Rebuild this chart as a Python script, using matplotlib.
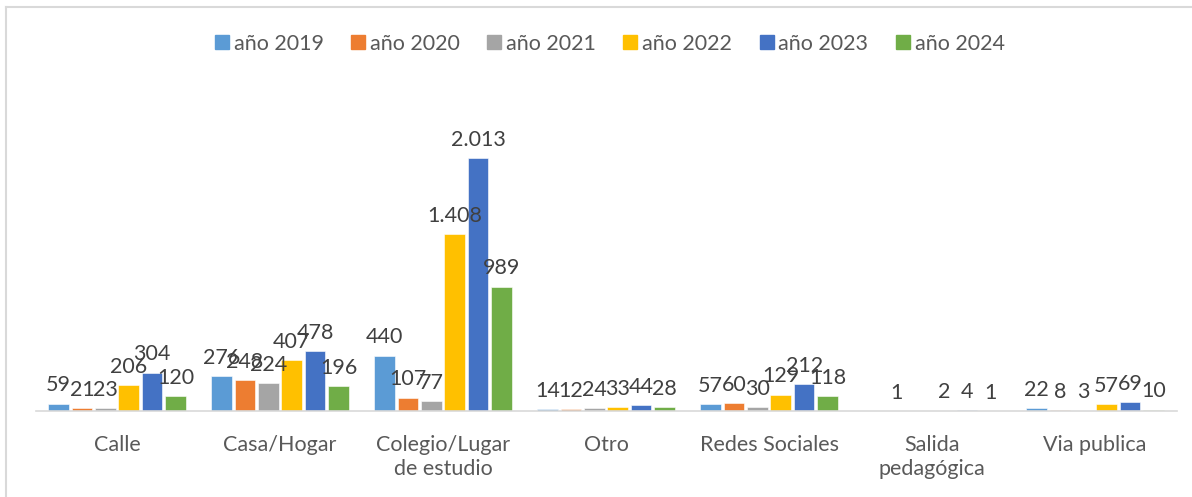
import matplotlib
matplotlib.use("Agg")
import matplotlib.pyplot as plt
from matplotlib.lines import Line2D
import numpy as np

categories = ["Calle", "Casa/Hogar", "Colegio/Lugar\nde estudio", "Otro",
              "Redes Sociales", "Salida\npedagógica", "Via publica"]
series_names = ["año 2019", "año 2020", "año 2021", "año 2022", "año 2023", "año 2024"]
v2019 = [59, 276, 440, 14, 57, None, 22]
v2020 = [21, 248, 107, 12, 60, 1, 8]
v2021 = [23, 224, 77, 24, 30, None, 3]
v2022 = [206, 407, 1408, 33, 129, 2, 57]
v2023 = [304, 478, 2013, 44, 212, 4, 69]
v2024 = [120, 196, 989, 28, 118, 1, 10]
series = [v2019, v2020, v2021, v2022, v2023, v2024]
colors = ["#5B9BD5", "#ED7D31", "#A5A5A5", "#FFC000", "#4472C4", "#70AD47"]

plt.rcParams['font.family'] = ['Lato', 'DejaVu Sans']

W, H = 1192, 497
fig = plt.figure(figsize=(W / 100, H / 100), dpi=100)
ax = fig.add_axes([35.5 / W, (H - 411) / H, (1176.5 - 35.5) / W, 314 / H])

n = len(series)
x = np.arange(len(categories))
step = 23.4 / 163.0
bw = 20.5 / 163.0

def fmt(v):
    return f"{v:,}".replace(",", ".")

for i, (vals, c, name) in enumerate(zip(series, colors, series_names)):
    pos = x + (i - (n - 1) / 2) * step
    hv = [0 if v is None else v for v in vals]
    ax.bar(pos, hv, width=bw, color=c, edgecolor="white", linewidth=0.4, label=name)
    for p, v in zip(pos, vals):
        if v is None:
            continue
        ax.annotate(fmt(v), (p, v), xytext=(0, 6), textcoords="offset points",
                    ha="center", va="bottom", fontsize=15.5, color="#404040")

ax.set_xlim(-0.5, len(categories) - 0.5)
ax.set_ylim(0, 2500)
ax.set_yticks([])
for s in ["top", "right", "left"]:
    ax.spines[s].set_visible(False)
ax.spines["bottom"].set_color("#D9D9D9")
ax.spines["bottom"].set_linewidth(1.2)
ax.set_xticks(x)
ax.set_xticklabels(categories, fontsize=15.5, color="#595959", linespacing=1.3)
ax.tick_params(axis="x", length=0, pad=17)

handles = [Line2D([0], [0], marker="s", linestyle="", markersize=10,
                  markerfacecolor=c, markeredgecolor=c) for c in colors]
leg = fig.legend(handles, series_names, loc="center", bbox_to_anchor=(609 / W, 1 - 44 / H),
                 ncol=6, frameon=False, fontsize=15.5, handletextpad=0.15,
                 columnspacing=1.2, handlelength=0.8)
for t in leg.get_texts():
    t.set_color("#595959")

# chart frame (partially visible)
fig.add_artist(Line2D([5.5 / W, 5.5 / W], [0, 1 - 7 / H], color="#D9D9D9", lw=1.5,
                      transform=fig.transFigure))
fig.add_artist(Line2D([5.5 / W, 1], [1 - 7 / H, 1 - 7 / H], color="#D9D9D9", lw=1.5,
                      transform=fig.transFigure))

fig.savefig("out.png", dpi=100, facecolor="white")
